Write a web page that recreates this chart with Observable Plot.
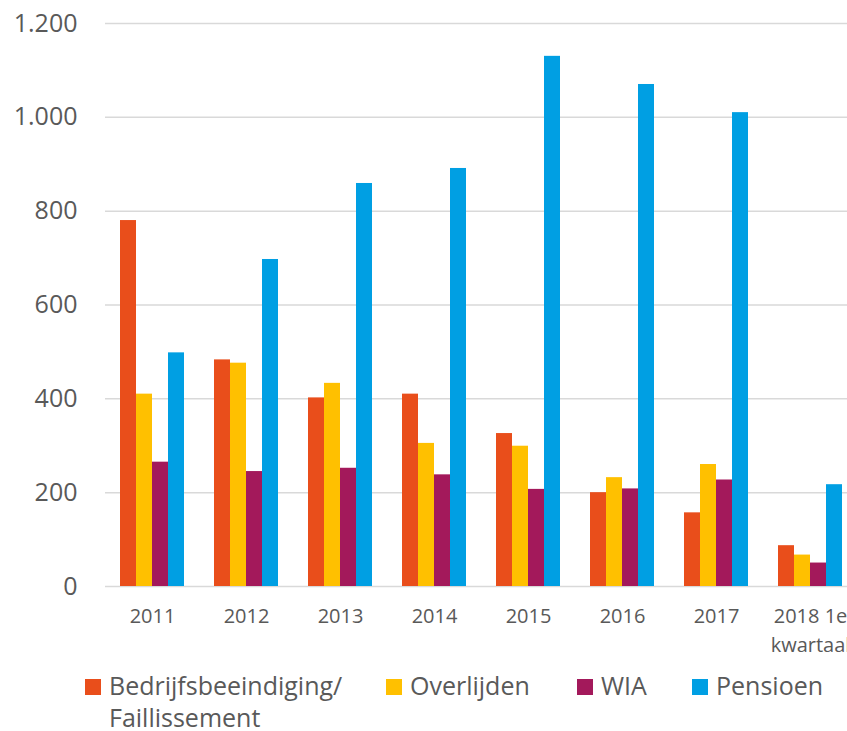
<!DOCTYPE html>
<html>
<head>
<meta charset="utf-8">
<script src="https://cdn.jsdelivr.net/npm/d3@7"></script>
<script src="https://cdn.jsdelivr.net/npm/@observablehq/plot@0.6"></script>
<style>
  html, body { margin: 0; padding: 0; background: #fff; overflow: hidden; }
  #wrap { width: 847px; overflow: hidden; position: relative; font-family: 'Open Sans', sans-serif; color: #595959; }
  #legend { position: relative; height: 66px; width: 847px; }
  .item { position: absolute; top: 4px; display: flex; align-items: flex-start; font-size: 25px; line-height: 32px; }
  .sw { width: 16px; height: 16px; margin-top: 10px; margin-right: 8px; flex: none; }
</style>
</head>
<body>
<div id="wrap">
  <div id="chart"></div>
  <div id="legend"></div>
</div>
<script>
// ---- data ----
const years = ["2011", "2012", "2013", "2014", "2015", "2016", "2017", "2018 1e kwartaal"];
const xTickLabels = ["2011", "2012", "2013", "2014", "2015", "2016", "2017", "2018 1e\nkwartaal"];
const series = ["Bedrijfsbeeindiging/ Faillissement", "Overlijden", "WIA", "Pensioen"];
const bedrijfsbeeindiging = [780, 483, 402, 410, 326, 200, 157, 87];
const overlijden = [410, 476, 433, 305, 299, 232, 260, 67];
const wia = [265, 245, 252, 238, 207, 208, 227, 50];
const pensioen = [498, 697, 859, 891, 1130, 1070, 1010, 217];
const yTicks = [0, 200, 400, 600, 800, 1000, 1200];
const colors = ["#E94E1B", "#FFC000", "#A3195B", "#009FE3"];

// ---- build table ----
const values = [bedrijfsbeeindiging, overlijden, wia, pensioen];
const rows = years.flatMap((yr, i) => series.map((s, j) => ({year: yr, series: s, value: values[j][i]})));
const nl = d3.formatLocale({decimal: ",", thousands: ".", grouping: [3], currency: ["€", ""]}).format(",");

const chart = Plot.plot({
  width: 857,
  height: 665,
  marginTop: 23,
  marginBottom: 79,
  marginLeft: 105,
  marginRight: 0,
  style: {fontFamily: "'Open Sans', sans-serif", color: "#595959", background: "white", maxWidth: "none", overflow: "hidden"},
  fx: {domain: years, paddingInner: 0, paddingOuter: 0, label: null, axis: null},
  x: {domain: series, paddingInner: 0, paddingOuter: 0.765, axis: null},
  y: {domain: [0, 1200], label: null},
  color: {domain: series, range: colors},
  marks: [
    Plot.gridY(yTicks, {stroke: "#d9d9d9", strokeOpacity: 1, strokeWidth: 1.5}),
    Plot.barY(rows, {fx: "year", x: "series", y: "value", fill: "series"}),
    Plot.axisY(yTicks, {tickSize: 0, tickPadding: 28, fontSize: 25, tickFormat: nl, label: null, fill: "#595959"}),
    Plot.axisFx({anchor: "bottom", tickSize: 0, tickPadding: 16, fontSize: 20, lineHeight: 1.45, label: null, fill: "#595959",
      tickFormat: d => xTickLabels[years.indexOf(d)]})
  ]
});
document.getElementById("chart").appendChild(chart);

// ---- legend ----
const legendLeft = [85, 386, 577, 692];
const legend = document.getElementById("legend");
series.forEach((s, i) => {
  const it = document.createElement("div");
  it.className = "item";
  it.style.left = legendLeft[i] + "px";
  if (i === 0) it.style.width = "290px";
  const sw = document.createElement("div");
  sw.className = "sw";
  sw.style.background = colors[i];
  const tx = document.createElement("div");
  tx.textContent = s;
  it.appendChild(sw);
  it.appendChild(tx);
  legend.appendChild(it);
});
</script>
</body>
</html>
